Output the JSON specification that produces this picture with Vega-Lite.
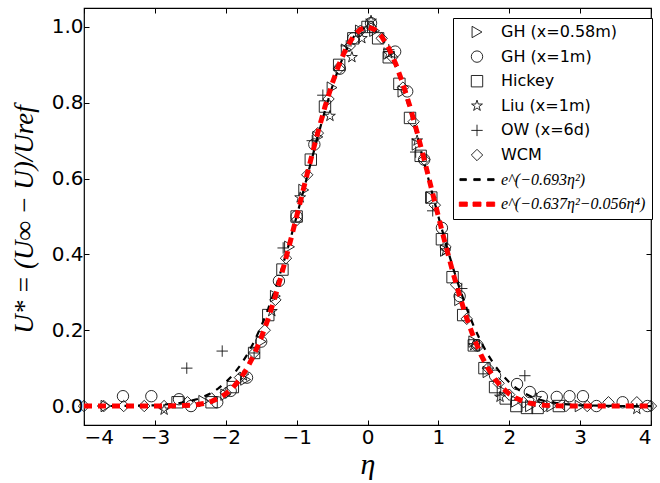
{
  "$schema": "https://vega.github.io/schema/vega-lite/v6.json",
  "width": 567,
  "height": 417,
  "autosize": {"type": "none"},
  "padding": {"left": 84, "top": 8, "right": 9, "bottom": 58},
  "background": "white",
  "config": {
    "view": {"stroke": "black", "strokeWidth": 1.2},
    "font": "DejaVu Sans",
    "axis": {"grid": false, "domain": false, "tickColor": "black", "tickSize": -5, "tickWidth": 1, "labelColor": "black", "labelFont": "DejaVu Sans", "labelFontSize": 20, "titleColor": "black"},
    "legend": {"strokeColor": "black", "fillColor": "white", "cornerRadius": 0, "padding": 6, "rowPadding": 8.6, "labelFontSize": 16, "labelColor": "black", "symbolSize": 130, "symbolStrokeWidth": 0.9, "labelLimit": 300}
  },
  "datasets": {
    "obs": [
      {"series": "GH (x=0.58m)", "eta": -3.69, "u": 0.0},
      {"series": "GH (x=0.58m)", "eta": -2.31, "u": 0.013},
      {"series": "GH (x=0.58m)", "eta": -2.0, "u": 0.03},
      {"series": "GH (x=0.58m)", "eta": -1.72, "u": 0.07},
      {"series": "GH (x=0.58m)", "eta": -1.5, "u": 0.17},
      {"series": "GH (x=0.58m)", "eta": -1.3, "u": 0.29},
      {"series": "GH (x=0.58m)", "eta": -1.1, "u": 0.42},
      {"series": "GH (x=0.58m)", "eta": -0.9, "u": 0.57},
      {"series": "GH (x=0.58m)", "eta": -0.7, "u": 0.71},
      {"series": "GH (x=0.58m)", "eta": -0.5, "u": 0.84},
      {"series": "GH (x=0.58m)", "eta": -0.3, "u": 0.94},
      {"series": "GH (x=0.58m)", "eta": -0.1, "u": 0.99},
      {"series": "GH (x=0.58m)", "eta": 0.1, "u": 0.99},
      {"series": "GH (x=0.58m)", "eta": 0.3, "u": 0.93},
      {"series": "GH (x=0.58m)", "eta": 0.5, "u": 0.83},
      {"series": "GH (x=0.58m)", "eta": 0.7, "u": 0.69},
      {"series": "GH (x=0.58m)", "eta": 0.9, "u": 0.55},
      {"series": "GH (x=0.58m)", "eta": 1.1, "u": 0.41},
      {"series": "GH (x=0.58m)", "eta": 1.3, "u": 0.28},
      {"series": "GH (x=0.58m)", "eta": 1.5, "u": 0.17},
      {"series": "GH (x=0.58m)", "eta": 1.7, "u": 0.09},
      {"series": "GH (x=0.58m)", "eta": 1.9, "u": 0.04},
      {"series": "GH (x=0.58m)", "eta": 2.1, "u": 0.012},
      {"series": "GH (x=0.58m)", "eta": 2.3, "u": 0.0},
      {"series": "GH (x=0.58m)", "eta": 2.6, "u": 0.0},
      {"series": "GH (x=0.58m)", "eta": 3.0, "u": 0.0},
      {"series": "GH (x=1m)", "eta": -3.45, "u": 0.026},
      {"series": "GH (x=1m)", "eta": -3.05, "u": 0.026},
      {"series": "GH (x=1m)", "eta": -2.66, "u": 0.018},
      {"series": "GH (x=1m)", "eta": -2.49, "u": 0.0},
      {"series": "GH (x=1m)", "eta": -2.12, "u": 0.01},
      {"series": "GH (x=1m)", "eta": -1.93, "u": 0.04},
      {"series": "GH (x=1m)", "eta": -1.7, "u": 0.075},
      {"series": "GH (x=1m)", "eta": -1.5, "u": 0.17},
      {"series": "GH (x=1m)", "eta": -1.25, "u": 0.33},
      {"series": "GH (x=1m)", "eta": -1.0, "u": 0.5},
      {"series": "GH (x=1m)", "eta": -0.75, "u": 0.69},
      {"series": "GH (x=1m)", "eta": -0.39, "u": 0.89},
      {"series": "GH (x=1m)", "eta": -0.2, "u": 0.97},
      {"series": "GH (x=1m)", "eta": 0.05, "u": 1.01},
      {"series": "GH (x=1m)", "eta": 0.39, "u": 0.935},
      {"series": "GH (x=1m)", "eta": 0.56, "u": 0.83},
      {"series": "GH (x=1m)", "eta": 0.8, "u": 0.65},
      {"series": "GH (x=1m)", "eta": 1.05, "u": 0.47},
      {"series": "GH (x=1m)", "eta": 1.3, "u": 0.29},
      {"series": "GH (x=1m)", "eta": 1.55, "u": 0.16},
      {"series": "GH (x=1m)", "eta": 1.8, "u": 0.08},
      {"series": "GH (x=1m)", "eta": 2.11, "u": 0.058},
      {"series": "GH (x=1m)", "eta": 2.29, "u": 0.037},
      {"series": "GH (x=1m)", "eta": 2.46, "u": 0.024},
      {"series": "GH (x=1m)", "eta": 2.67, "u": 0.024},
      {"series": "GH (x=1m)", "eta": 2.85, "u": 0.026},
      {"series": "GH (x=1m)", "eta": 3.04, "u": 0.026},
      {"series": "GH (x=1m)", "eta": 3.23, "u": 0.0},
      {"series": "GH (x=1m)", "eta": 3.6, "u": 0.01},
      {"series": "GH (x=1m)", "eta": 3.95, "u": 0.0},
      {"series": "Hickey", "eta": -2.68, "u": 0.01},
      {"series": "Hickey", "eta": -2.2, "u": 0.01},
      {"series": "Hickey", "eta": -1.9, "u": 0.05},
      {"series": "Hickey", "eta": -1.6, "u": 0.14},
      {"series": "Hickey", "eta": -1.4, "u": 0.24},
      {"series": "Hickey", "eta": -1.2, "u": 0.36},
      {"series": "Hickey", "eta": -1.0, "u": 0.5},
      {"series": "Hickey", "eta": -0.8, "u": 0.65},
      {"series": "Hickey", "eta": -0.6, "u": 0.79},
      {"series": "Hickey", "eta": -0.4, "u": 0.9},
      {"series": "Hickey", "eta": -0.2, "u": 0.97},
      {"series": "Hickey", "eta": 0.0, "u": 1.0},
      {"series": "Hickey", "eta": 0.15, "u": 0.97},
      {"series": "Hickey", "eta": 0.3, "u": 0.92},
      {"series": "Hickey", "eta": 0.45, "u": 0.85},
      {"series": "Hickey", "eta": 0.6, "u": 0.76},
      {"series": "Hickey", "eta": 0.75, "u": 0.66},
      {"series": "Hickey", "eta": 0.9, "u": 0.55},
      {"series": "Hickey", "eta": 1.05, "u": 0.44},
      {"series": "Hickey", "eta": 1.2, "u": 0.34},
      {"series": "Hickey", "eta": 1.35, "u": 0.24},
      {"series": "Hickey", "eta": 1.5, "u": 0.16},
      {"series": "Hickey", "eta": 1.65, "u": 0.1},
      {"series": "Hickey", "eta": 1.8, "u": 0.05},
      {"series": "Hickey", "eta": 1.95, "u": 0.02},
      {"series": "Hickey", "eta": 2.1, "u": 0.0},
      {"series": "Hickey", "eta": 2.25, "u": -0.005},
      {"series": "Hickey", "eta": 2.4, "u": -0.005},
      {"series": "Hickey", "eta": 2.7, "u": 0.0},
      {"series": "Liu (x=1m)", "eta": -2.87, "u": -0.01},
      {"series": "Liu (x=1m)", "eta": -1.75, "u": 0.08},
      {"series": "Liu (x=1m)", "eta": -1.35, "u": 0.25},
      {"series": "Liu (x=1m)", "eta": -0.95, "u": 0.55},
      {"series": "Liu (x=1m)", "eta": -0.53, "u": 0.765},
      {"series": "Liu (x=1m)", "eta": -0.22, "u": 0.92},
      {"series": "Liu (x=1m)", "eta": -0.08, "u": 0.97},
      {"series": "Liu (x=1m)", "eta": 0.05, "u": 1.016},
      {"series": "Liu (x=1m)", "eta": 0.3, "u": 0.93},
      {"series": "Liu (x=1m)", "eta": 0.7, "u": 0.7},
      {"series": "Liu (x=1m)", "eta": 1.1, "u": 0.41},
      {"series": "Liu (x=1m)", "eta": 1.5, "u": 0.16},
      {"series": "Liu (x=1m)", "eta": 1.87, "u": 0.024},
      {"series": "Liu (x=1m)", "eta": 2.38, "u": 0.02},
      {"series": "Liu (x=1m)", "eta": 3.8, "u": -0.008},
      {"series": "OW (x=6d)", "eta": -2.55, "u": 0.1},
      {"series": "OW (x=6d)", "eta": -2.05, "u": 0.145},
      {"series": "OW (x=6d)", "eta": -1.6, "u": 0.14},
      {"series": "OW (x=6d)", "eta": -1.19, "u": 0.417},
      {"series": "OW (x=6d)", "eta": -0.78, "u": 0.7},
      {"series": "OW (x=6d)", "eta": -0.63, "u": 0.82},
      {"series": "OW (x=6d)", "eta": -0.3, "u": 0.95},
      {"series": "OW (x=6d)", "eta": 0.0, "u": 1.0},
      {"series": "OW (x=6d)", "eta": 0.3, "u": 0.94},
      {"series": "OW (x=6d)", "eta": 0.68, "u": 0.67},
      {"series": "OW (x=6d)", "eta": 0.92, "u": 0.515},
      {"series": "OW (x=6d)", "eta": 1.33, "u": 0.31},
      {"series": "OW (x=6d)", "eta": 1.7, "u": 0.1},
      {"series": "OW (x=6d)", "eta": 2.22, "u": 0.08},
      {"series": "WCM", "eta": -4.0, "u": 0.0},
      {"series": "WCM", "eta": -3.72, "u": 0.0},
      {"series": "WCM", "eta": -3.44, "u": 0.0},
      {"series": "WCM", "eta": -3.15, "u": 0.0},
      {"series": "WCM", "eta": -2.87, "u": 0.0},
      {"series": "WCM", "eta": -2.54, "u": 0.01},
      {"series": "WCM", "eta": -2.2, "u": 0.02},
      {"series": "WCM", "eta": -2.0, "u": 0.035},
      {"series": "WCM", "eta": -1.8, "u": 0.075},
      {"series": "WCM", "eta": -1.6, "u": 0.14},
      {"series": "WCM", "eta": -1.45, "u": 0.2},
      {"series": "WCM", "eta": -1.3, "u": 0.28},
      {"series": "WCM", "eta": -1.15, "u": 0.39},
      {"series": "WCM", "eta": -1.0, "u": 0.49},
      {"series": "WCM", "eta": -0.85, "u": 0.61},
      {"series": "WCM", "eta": -0.7, "u": 0.72},
      {"series": "WCM", "eta": -0.55, "u": 0.81},
      {"series": "WCM", "eta": -0.4, "u": 0.89},
      {"series": "WCM", "eta": -0.25, "u": 0.95},
      {"series": "WCM", "eta": -0.1, "u": 0.99},
      {"series": "WCM", "eta": 0.05, "u": 1.0},
      {"series": "WCM", "eta": 0.2, "u": 0.97},
      {"series": "WCM", "eta": 0.35, "u": 0.92},
      {"series": "WCM", "eta": 0.5, "u": 0.84},
      {"series": "WCM", "eta": 0.65, "u": 0.75},
      {"series": "WCM", "eta": 0.8, "u": 0.65},
      {"series": "WCM", "eta": 0.95, "u": 0.53},
      {"series": "WCM", "eta": 1.1, "u": 0.42},
      {"series": "WCM", "eta": 1.25, "u": 0.32},
      {"series": "WCM", "eta": 1.4, "u": 0.23},
      {"series": "WCM", "eta": 1.55, "u": 0.16},
      {"series": "WCM", "eta": 1.7, "u": 0.1},
      {"series": "WCM", "eta": 1.85, "u": 0.06},
      {"series": "WCM", "eta": 2.0, "u": 0.03},
      {"series": "WCM", "eta": 2.2, "u": 0.01},
      {"series": "WCM", "eta": 2.5, "u": 0.0},
      {"series": "WCM", "eta": 2.8, "u": 0.0},
      {"series": "WCM", "eta": 3.1, "u": 0.0},
      {"series": "WCM", "eta": 3.4, "u": 0.01},
      {"series": "WCM", "eta": 3.8, "u": 0.01},
      {"series": "WCM", "eta": 4.0, "u": 0.0}
    ],
    "gauss": [
      {"series": "e^(−0.693η²)", "eta": -4.0, "u": 0.0},
      {"series": "e^(−0.693η²)", "eta": -3.5, "u": 0.0002},
      {"series": "e^(−0.693η²)", "eta": -3.0, "u": 0.002},
      {"series": "e^(−0.693η²)", "eta": -2.7, "u": 0.0064},
      {"series": "e^(−0.693η²)", "eta": -2.5, "u": 0.0132},
      {"series": "e^(−0.693η²)", "eta": -2.4, "u": 0.0185},
      {"series": "e^(−0.693η²)", "eta": -2.3, "u": 0.0256},
      {"series": "e^(−0.693η²)", "eta": -2.2, "u": 0.0349},
      {"series": "e^(−0.693η²)", "eta": -2.1, "u": 0.0471},
      {"series": "e^(−0.693η²)", "eta": -2.0, "u": 0.0626},
      {"series": "e^(−0.693η²)", "eta": -1.9, "u": 0.0819},
      {"series": "e^(−0.693η²)", "eta": -1.8, "u": 0.1059},
      {"series": "e^(−0.693η²)", "eta": -1.7, "u": 0.135},
      {"series": "e^(−0.693η²)", "eta": -1.6, "u": 0.1696},
      {"series": "e^(−0.693η²)", "eta": -1.5, "u": 0.2103},
      {"series": "e^(−0.693η²)", "eta": -1.4, "u": 0.2571},
      {"series": "e^(−0.693η²)", "eta": -1.3, "u": 0.31},
      {"series": "e^(−0.693η²)", "eta": -1.2, "u": 0.3687},
      {"series": "e^(−0.693η²)", "eta": -1.1, "u": 0.4324},
      {"series": "e^(−0.693η²)", "eta": -1.0, "u": 0.5001},
      {"series": "e^(−0.693η²)", "eta": -0.9, "u": 0.5705},
      {"series": "e^(−0.693η²)", "eta": -0.8, "u": 0.6418},
      {"series": "e^(−0.693η²)", "eta": -0.7, "u": 0.712},
      {"series": "e^(−0.693η²)", "eta": -0.6, "u": 0.7792},
      {"series": "e^(−0.693η²)", "eta": -0.5, "u": 0.8409},
      {"series": "e^(−0.693η²)", "eta": -0.4, "u": 0.8951},
      {"series": "e^(−0.693η²)", "eta": -0.3, "u": 0.9395},
      {"series": "e^(−0.693η²)", "eta": -0.2, "u": 0.9727},
      {"series": "e^(−0.693η²)", "eta": -0.1, "u": 0.9931},
      {"series": "e^(−0.693η²)", "eta": 0.0, "u": 1.0},
      {"series": "e^(−0.693η²)", "eta": 0.1, "u": 0.9931},
      {"series": "e^(−0.693η²)", "eta": 0.2, "u": 0.9727},
      {"series": "e^(−0.693η²)", "eta": 0.3, "u": 0.9395},
      {"series": "e^(−0.693η²)", "eta": 0.4, "u": 0.8951},
      {"series": "e^(−0.693η²)", "eta": 0.5, "u": 0.8409},
      {"series": "e^(−0.693η²)", "eta": 0.6, "u": 0.7792},
      {"series": "e^(−0.693η²)", "eta": 0.7, "u": 0.712},
      {"series": "e^(−0.693η²)", "eta": 0.8, "u": 0.6418},
      {"series": "e^(−0.693η²)", "eta": 0.9, "u": 0.5705},
      {"series": "e^(−0.693η²)", "eta": 1.0, "u": 0.5001},
      {"series": "e^(−0.693η²)", "eta": 1.1, "u": 0.4324},
      {"series": "e^(−0.693η²)", "eta": 1.2, "u": 0.3687},
      {"series": "e^(−0.693η²)", "eta": 1.3, "u": 0.31},
      {"series": "e^(−0.693η²)", "eta": 1.4, "u": 0.2571},
      {"series": "e^(−0.693η²)", "eta": 1.5, "u": 0.2103},
      {"series": "e^(−0.693η²)", "eta": 1.6, "u": 0.1696},
      {"series": "e^(−0.693η²)", "eta": 1.7, "u": 0.135},
      {"series": "e^(−0.693η²)", "eta": 1.8, "u": 0.1059},
      {"series": "e^(−0.693η²)", "eta": 1.9, "u": 0.0819},
      {"series": "e^(−0.693η²)", "eta": 2.0, "u": 0.0626},
      {"series": "e^(−0.693η²)", "eta": 2.1, "u": 0.0471},
      {"series": "e^(−0.693η²)", "eta": 2.2, "u": 0.0349},
      {"series": "e^(−0.693η²)", "eta": 2.3, "u": 0.0256},
      {"series": "e^(−0.693η²)", "eta": 2.4, "u": 0.0185},
      {"series": "e^(−0.693η²)", "eta": 2.5, "u": 0.0132},
      {"series": "e^(−0.693η²)", "eta": 2.7, "u": 0.0064},
      {"series": "e^(−0.693η²)", "eta": 3.0, "u": 0.002},
      {"series": "e^(−0.693η²)", "eta": 3.5, "u": 0.0002},
      {"series": "e^(−0.693η²)", "eta": 4.0, "u": 0.0}
    ],
    "fit": [
      {"series": "e^(−0.637η²−0.056η⁴)", "eta": -4.0, "u": 0.0},
      {"series": "e^(−0.637η²−0.056η⁴)", "eta": -3.5, "u": 0.0},
      {"series": "e^(−0.637η²−0.056η⁴)", "eta": -3.0, "u": 0.0},
      {"series": "e^(−0.637η²−0.056η⁴)", "eta": -2.7, "u": 0.0005},
      {"series": "e^(−0.637η²−0.056η⁴)", "eta": -2.5, "u": 0.0021},
      {"series": "e^(−0.637η²−0.056η⁴)", "eta": -2.4, "u": 0.004},
      {"series": "e^(−0.637η²−0.056η⁴)", "eta": -2.3, "u": 0.0072},
      {"series": "e^(−0.637η²−0.056η⁴)", "eta": -2.2, "u": 0.0123},
      {"series": "e^(−0.637η²−0.056η⁴)", "eta": -2.1, "u": 0.0203},
      {"series": "e^(−0.637η²−0.056η⁴)", "eta": -2.0, "u": 0.0319},
      {"series": "e^(−0.637η²−0.056η⁴)", "eta": -1.9, "u": 0.0484},
      {"series": "e^(−0.637η²−0.056η⁴)", "eta": -1.8, "u": 0.0705},
      {"series": "e^(−0.637η²−0.056η⁴)", "eta": -1.7, "u": 0.0994},
      {"series": "e^(−0.637η²−0.056η⁴)", "eta": -1.6, "u": 0.1357},
      {"series": "e^(−0.637η²−0.056η⁴)", "eta": -1.5, "u": 0.1797},
      {"series": "e^(−0.637η²−0.056η⁴)", "eta": -1.4, "u": 0.2314},
      {"series": "e^(−0.637η²−0.056η⁴)", "eta": -1.3, "u": 0.2904},
      {"series": "e^(−0.637η²−0.056η⁴)", "eta": -1.2, "u": 0.3558},
      {"series": "e^(−0.637η²−0.056η⁴)", "eta": -1.1, "u": 0.4262},
      {"series": "e^(−0.637η²−0.056η⁴)", "eta": -1.0, "u": 0.5001},
      {"series": "e^(−0.637η²−0.056η⁴)", "eta": -0.9, "u": 0.5754},
      {"series": "e^(−0.637η²−0.056η⁴)", "eta": -0.8, "u": 0.6501},
      {"series": "e^(−0.637η²−0.056η⁴)", "eta": -0.7, "u": 0.7221},
      {"series": "e^(−0.637η²−0.056η⁴)", "eta": -0.6, "u": 0.7893},
      {"series": "e^(−0.637η²−0.056η⁴)", "eta": -0.5, "u": 0.8498},
      {"series": "e^(−0.637η²−0.056η⁴)", "eta": -0.4, "u": 0.9018},
      {"series": "e^(−0.637η²−0.056η⁴)", "eta": -0.3, "u": 0.9439},
      {"series": "e^(−0.637η²−0.056η⁴)", "eta": -0.2, "u": 0.9748},
      {"series": "e^(−0.637η²−0.056η⁴)", "eta": -0.1, "u": 0.9937},
      {"series": "e^(−0.637η²−0.056η⁴)", "eta": 0.0, "u": 1.0},
      {"series": "e^(−0.637η²−0.056η⁴)", "eta": 0.1, "u": 0.9937},
      {"series": "e^(−0.637η²−0.056η⁴)", "eta": 0.2, "u": 0.9748},
      {"series": "e^(−0.637η²−0.056η⁴)", "eta": 0.3, "u": 0.9439},
      {"series": "e^(−0.637η²−0.056η⁴)", "eta": 0.4, "u": 0.9018},
      {"series": "e^(−0.637η²−0.056η⁴)", "eta": 0.5, "u": 0.8498},
      {"series": "e^(−0.637η²−0.056η⁴)", "eta": 0.6, "u": 0.7893},
      {"series": "e^(−0.637η²−0.056η⁴)", "eta": 0.7, "u": 0.7221},
      {"series": "e^(−0.637η²−0.056η⁴)", "eta": 0.8, "u": 0.6501},
      {"series": "e^(−0.637η²−0.056η⁴)", "eta": 0.9, "u": 0.5754},
      {"series": "e^(−0.637η²−0.056η⁴)", "eta": 1.0, "u": 0.5001},
      {"series": "e^(−0.637η²−0.056η⁴)", "eta": 1.1, "u": 0.4262},
      {"series": "e^(−0.637η²−0.056η⁴)", "eta": 1.2, "u": 0.3558},
      {"series": "e^(−0.637η²−0.056η⁴)", "eta": 1.3, "u": 0.2904},
      {"series": "e^(−0.637η²−0.056η⁴)", "eta": 1.4, "u": 0.2314},
      {"series": "e^(−0.637η²−0.056η⁴)", "eta": 1.5, "u": 0.1797},
      {"series": "e^(−0.637η²−0.056η⁴)", "eta": 1.6, "u": 0.1357},
      {"series": "e^(−0.637η²−0.056η⁴)", "eta": 1.7, "u": 0.0994},
      {"series": "e^(−0.637η²−0.056η⁴)", "eta": 1.8, "u": 0.0705},
      {"series": "e^(−0.637η²−0.056η⁴)", "eta": 1.9, "u": 0.0484},
      {"series": "e^(−0.637η²−0.056η⁴)", "eta": 2.0, "u": 0.0319},
      {"series": "e^(−0.637η²−0.056η⁴)", "eta": 2.1, "u": 0.0203},
      {"series": "e^(−0.637η²−0.056η⁴)", "eta": 2.2, "u": 0.0123},
      {"series": "e^(−0.637η²−0.056η⁴)", "eta": 2.3, "u": 0.0072},
      {"series": "e^(−0.637η²−0.056η⁴)", "eta": 2.4, "u": 0.004},
      {"series": "e^(−0.637η²−0.056η⁴)", "eta": 2.5, "u": 0.0021},
      {"series": "e^(−0.637η²−0.056η⁴)", "eta": 2.7, "u": 0.0005},
      {"series": "e^(−0.637η²−0.056η⁴)", "eta": 3.0, "u": 0.0},
      {"series": "e^(−0.637η²−0.056η⁴)", "eta": 3.5, "u": 0.0},
      {"series": "e^(−0.637η²−0.056η⁴)", "eta": 4.0, "u": 0.0}
    ]
  },
  "resolve": {"axis": {"x": "independent", "y": "independent"}},
  "layer": [
    {
      "data": {"name": "obs"},
      "mark": {"type": "point", "filled": false, "size": 130, "opacity": 1, "strokeWidth": 0.9},
      "encoding": {
        "x": {"field": "eta", "type": "quantitative", "scale": {"domain": [-4, 4], "nice": false, "zero": false},
              "axis": {"orient": "bottom", "values": [-4, -3, -2, -1, 0, 1, 2, 3, 4], "format": "d", "labelPadding": 7,
                       "title": "η", "titleFont": "Liberation Serif", "titleFontStyle": "italic", "titleFontWeight": "normal", "titleFontSize": 30,
                       "titleBaseline": "alphabetic", "titleY": 48}},
        "y": {"field": "u", "type": "quantitative", "scale": {"domain": [-0.05, 1.05], "nice": false, "zero": false},
              "axis": {"orient": "left", "values": [0, 0.2, 0.4, 0.6, 0.8, 1.0], "format": ".1f", "labelPadding": 6,
                       "title": "U* = (U∞ − U)/Uref", "titleFont": "Liberation Serif", "titleFontStyle": "italic", "titleFontWeight": "normal", "titleFontSize": 27,
                       "titleBaseline": "alphabetic", "titleX": -52, "titleY": 211}},
        "shape": {"field": "series", "type": "nominal",
                  "scale": {"domain": ["GH (x=0.58m)", "GH (x=1m)", "Hickey", "Liu (x=1m)", "OW (x=6d)", "WCM", "e^(−0.693η²)", "e^(−0.637η²−0.056η⁴)"],
                            "range": ["triangle-right", "circle", "square", "M0,-1L0.225,-0.309L0.951,-0.309L0.363,0.118L0.588,0.809L0,0.382L-0.588,0.809L-0.363,0.118L-0.951,-0.309L-0.225,-0.309Z", "M-1,0H1M0,-1V1", "diamond",
                                      "M-3,-0.17H-1.86V0.17H-3Z M-0.57,-0.17H0.57V0.17H-0.57Z M1.86,-0.17H3V0.17H1.86Z",
                                      "M-3.1,-0.38H-1.7V0.38H-3.1Z M-0.7,-0.38H0.7V0.38H-0.7Z M1.7,-0.38H3.1V0.38H1.7Z"]},
                  "legend": {"title": null, "orient": "none", "legendX": 369, "legendY": 10, "symbolOffset": 10, "labelOffset": 16,
                             "labelFont": {"expr": "substring(datum.label,0,1) == 'e' ? 'Liberation Serif' : 'DejaVu Sans'"},
                             "labelFontStyle": {"expr": "substring(datum.label,0,1) == 'e' ? 'italic' : 'normal'"}}},
        "stroke": {"field": "series", "type": "nominal",
                   "scale": {"domain": ["GH (x=0.58m)", "GH (x=1m)", "Hickey", "Liu (x=1m)", "OW (x=6d)", "WCM", "e^(−0.693η²)", "e^(−0.637η²−0.056η⁴)"],
                             "range": ["#111111", "#111111", "#111111", "#111111", "#111111", "#111111", "black", "red"]},
                   "legend": {"title": null, "orient": "none", "legendX": 369, "legendY": 10}},
        "fill": {"field": "series", "type": "nominal",
                 "scale": {"domain": ["GH (x=0.58m)", "GH (x=1m)", "Hickey", "Liu (x=1m)", "OW (x=6d)", "WCM", "e^(−0.693η²)", "e^(−0.637η²−0.056η⁴)"],
                           "range": ["transparent", "transparent", "transparent", "transparent", "transparent", "transparent", "black", "red"]},
                 "legend": {"title": null, "orient": "none", "legendX": 369, "legendY": 10}}
      }
    },
    {
      "data": {"name": "obs"},
      "mark": {"type": "point", "opacity": 0},
      "encoding": {
        "x": {"field": "eta", "type": "quantitative", "scale": {"domain": [-4, 4], "nice": false, "zero": false},
              "axis": {"orient": "top", "values": [-4, -3, -2, -1, 0, 1, 2, 3, 4], "labels": false, "title": null}},
        "y": {"field": "u", "type": "quantitative", "scale": {"domain": [-0.05, 1.05], "nice": false, "zero": false},
              "axis": {"orient": "right", "values": [0, 0.2, 0.4, 0.6, 0.8, 1.0], "labels": false, "title": null}}
      }
    },
    {
      "data": {"name": "gauss"},
      "mark": {"type": "line", "strokeCap": "butt", "strokeWidth": 2.2, "strokeDash": [6.5, 7]},
      "encoding": {
        "x": {"field": "eta", "type": "quantitative", "scale": {"domain": [-4, 4], "nice": false, "zero": false}, "axis": null},
        "y": {"field": "u", "type": "quantitative", "scale": {"domain": [-0.05, 1.05], "nice": false, "zero": false}, "axis": null},
        "stroke": {"field": "series", "type": "nominal", "legend": null}
      }
    },
    {
      "data": {"name": "fit"},
      "mark": {"type": "line", "strokeCap": "butt", "strokeWidth": 5, "strokeDash": [8, 6]},
      "encoding": {
        "x": {"field": "eta", "type": "quantitative", "scale": {"domain": [-4, 4], "nice": false, "zero": false}, "axis": null},
        "y": {"field": "u", "type": "quantitative", "scale": {"domain": [-0.05, 1.05], "nice": false, "zero": false}, "axis": null},
        "stroke": {"field": "series", "type": "nominal", "legend": null}
      }
    }
  ]
}
